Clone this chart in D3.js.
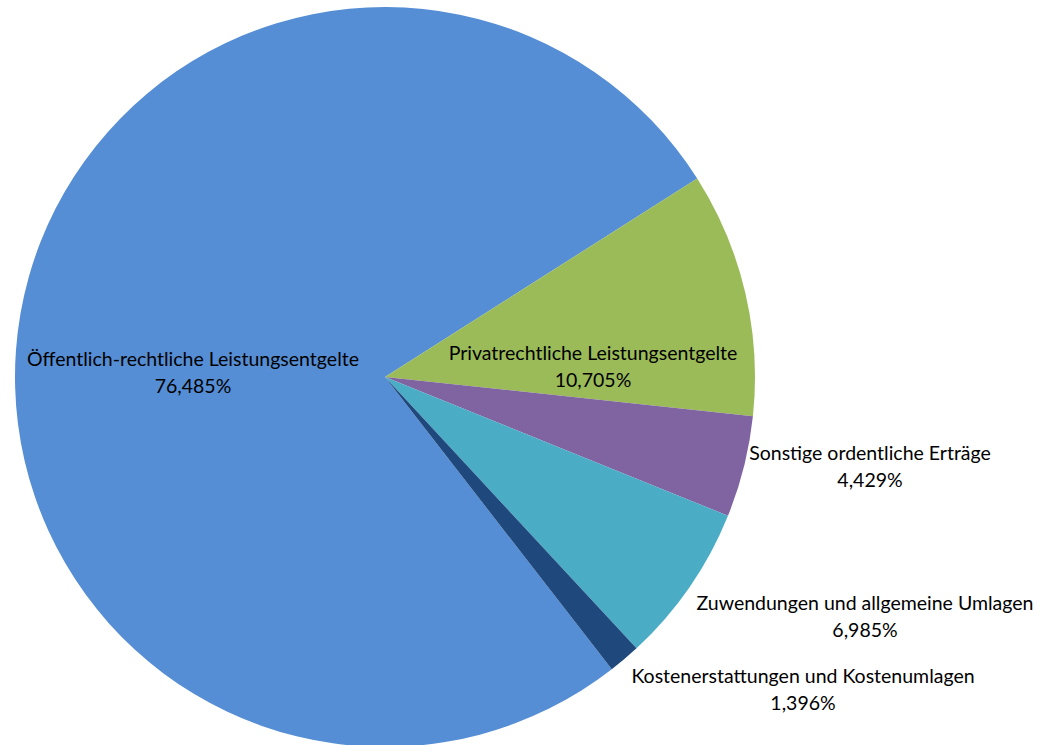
<!DOCTYPE html>
<html>
<head>
  <meta charset="utf-8">
  <title>Erträge</title>
  <script src="https://d3js.org/d3.v7.min.js"></script>
  <style>
    body { margin: 0; background: #fff; }
    svg text { font-family: Lato, "Open Sans", sans-serif; font-size: 19.5px; fill: #000; }
  </style>
</head>
<body>
<svg width="1044" height="745"></svg>
<script>
// categories and shares (percent), clockwise from the lower right
const categories = [
  "Öffentlich-rechtliche Leistungsentgelte",
  "Privatrechtliche Leistungsentgelte",
  "Sonstige ordentliche Erträge",
  "Zuwendungen und allgemeine Umlagen",
  "Kostenerstattungen und Kostenumlagen"
];
const shares = [76.485, 10.705, 4.429, 6.985, 1.396];
const colors = ["#558ed5", "#9bbb59", "#8064a2", "#4bacc6", "#1f497d"];

// label centres relative to pie centre (layout only)
const labelPos = [[-192, -4], [208, -10], [485, 90], [480, 240], [418, 313]];

const cx = 385, cy = 377, radius = 370;

const svg = d3.select("svg");
const g = svg.append("g").attr("transform", `translate(${cx},${cy})`);

const start = 142.2 * Math.PI / 180;
const pie = d3.pie().sort(null).value(d => d.v)
  .startAngle(start).endAngle(start + 2 * Math.PI);

const data = categories.map((c, i) => ({ name: c, v: shares[i], i: i }));
const arcs = pie(data);

const arc = d3.arc().innerRadius(0).outerRadius(radius);

g.selectAll("path")
  .data(arcs)
  .enter().append("path")
    .attr("d", arc)
    .attr("fill", d => colors[d.data.i]);

const fmt = v => v.toFixed(3).replace(".", ",") + "%";

const lab = g.selectAll("text.lab")
  .data(arcs)
  .enter().append("text")
    .attr("class", "lab")
    .attr("text-anchor", "middle")
    .attr("transform", d => `translate(${labelPos[d.data.i][0]},${labelPos[d.data.i][1]})`);

lab.append("tspan").attr("x", 0).attr("y", -7).text(d => d.data.name);
lab.append("tspan").attr("x", 0).attr("y", 20).text(d => fmt(d.data.v));
</script>
</body>
</html>
